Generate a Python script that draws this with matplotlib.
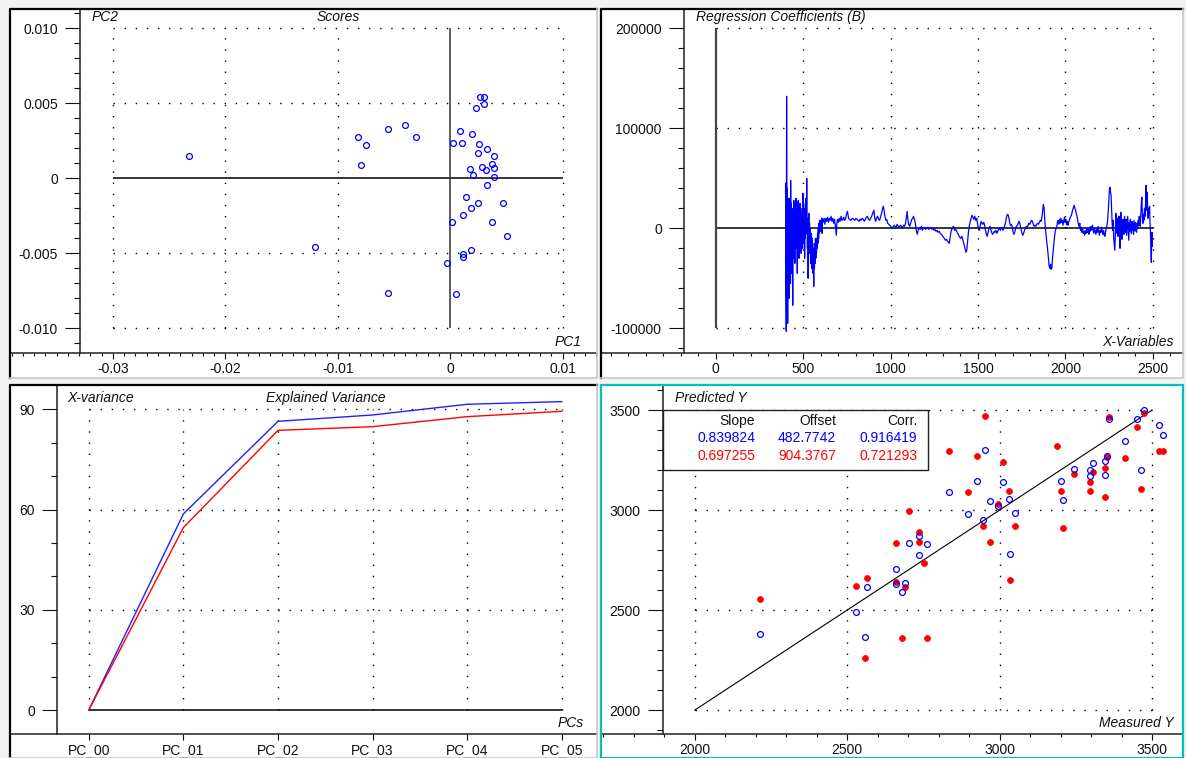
import matplotlib.pyplot as plt
from matplotlib.patches import Rectangle
from matplotlib.lines import Line2D
from matplotlib.ticker import MultipleLocator

plt.rcParams['font.family'] = ['Liberation Sans', 'DejaVu Sans']
plt.rcParams['font.size'] = 10

# ---- scores (PC1 / PC2)
score_pc1 = [-0.02325, -0.0120, -0.00820, -0.00748, -0.00790, -0.00552, -0.00398, -0.00306,
             -0.00552, 0.00267, 0.00297, 0.00297, 0.00226, 0.00083, 0.00196, 0.00021,
             0.00104, 0.00255, 0.00327, 0.00246, 0.00389, 0.00368, 0.00392, 0.00285,
             0.00318, 0.00175, 0.00205, 0.00389, 0.00327, 0.00143, 0.00246, 0.00472,
             0.00184, 0.00113, 0.00012, 0.00368, 0.00502, 0.00184, 0.00113, 0.00113,
             -0.00030, 0.00050]
score_pc2 = [0.00149, -0.00456, 0.00276, 0.00222, 0.00087, 0.00331, 0.00356, 0.00276,
             -0.00762, 0.00540, 0.00540, 0.00496, 0.00467, 0.00316, 0.00293, 0.00238,
             0.00238, 0.00231, 0.00198, 0.00167, 0.00151, 0.00096, 0.00071, 0.00073,
             0.00056, 0.00062, 0.00024, 0.00009, -0.00047, -0.00124, -0.00164, -0.00164,
             -0.00196, -0.00244, -0.00291, -0.00291, -0.00384, -0.00480, -0.00502, -0.00527,
             -0.00564, -0.00771]
score_xticks = [-0.03, -0.02, -0.01, 0, 0.01]
score_xlabels = ['-0.03', '-0.02', '-0.01', '0', '0.01']
score_yticks = [0.010, 0.005, 0, -0.005, -0.010]
score_ylabels = ['0.010', '0.005', '0', '-0.005', '-0.010']

# ---- regression coefficients B (values in thousands)
coef_x = [400, 402, 404, 406, 408, 410, 412, 414, 416, 418, 420, 422, 424, 426, 428, 429, 431, 433, 435, 437,
          439, 441, 443, 445, 447, 449, 451, 453, 455, 457, 459, 461, 463, 465, 467, 469, 471, 473, 475, 477,
          479, 481, 483, 485, 487, 489, 491, 493, 495, 497, 499, 501, 503, 505, 507, 509, 511, 513, 515, 517,
          519, 521, 523, 525, 527, 529, 531, 533, 535, 537, 539, 541, 543, 545, 547, 549, 551, 553, 555, 557,
          559, 561, 563, 565, 567, 569, 571, 573, 575, 577, 579, 581, 583, 585, 587, 589, 591, 593, 595, 597,
          599, 601, 603, 605, 607, 609, 611, 615, 620, 625, 630, 635, 640, 645, 650, 655, 660, 665, 670, 675,
          680, 685, 690, 693, 697, 702, 707, 712, 717, 722, 727, 732, 737, 742, 748, 754, 760, 766, 772, 778,
          784, 790, 796, 802, 808, 814, 820, 826, 832, 838, 844, 850, 856, 862, 868, 874, 880, 886, 892, 898,
          905, 910, 915, 920, 926, 932, 938, 944, 950, 955, 959, 963, 968, 973, 978, 984, 990, 996, 1002, 1008,
          1014, 1020, 1026, 1032, 1038, 1044, 1050, 1056, 1062, 1068, 1074, 1080, 1086, 1091, 1095, 1099, 1104,
          1110, 1116, 1122, 1127, 1131, 1137, 1142, 1147, 1153, 1158, 1164, 1170, 1176, 1182, 1188, 1194, 1200,
          1206, 1212, 1218, 1224, 1230, 1236, 1242, 1248, 1254, 1260, 1266, 1272, 1278, 1284, 1290, 1296, 1302,
          1308, 1314, 1320, 1326, 1331, 1336, 1340, 1345, 1350, 1355, 1360, 1364, 1368, 1372, 1378, 1384, 1390,
          1396, 1402, 1408, 1414, 1420, 1426, 1431, 1436, 1441, 1446, 1451, 1456, 1461, 1466, 1471, 1476, 1482,
          1487, 1493, 1498, 1503, 1508, 1513, 1518, 1523, 1528, 1533, 1538, 1543, 1548, 1553, 1558, 1563, 1568,
          1573, 1578, 1583, 1588, 1593, 1598, 1603, 1608, 1613, 1618, 1623, 1628, 1633, 1638, 1643, 1648, 1653,
          1658, 1662, 1666, 1670, 1675, 1680, 1685, 1690, 1695, 1700, 1705, 1710, 1715, 1720, 1725, 1730, 1735,
          1740, 1745, 1750, 1756, 1761, 1766, 1771, 1776, 1781, 1786, 1791, 1796, 1801, 1806, 1811, 1816, 1821,
          1826, 1831, 1836, 1841, 1846, 1851, 1856, 1861, 1866, 1870, 1874, 1878, 1882, 1886, 1890, 1894, 1897,
          1901, 1904, 1907, 1911, 1915, 1918, 1922, 1926, 1930, 1934, 1938, 1942, 1946, 1950, 1954, 1958, 1962,
          1966, 1970, 1974, 1978, 1982, 1986, 1990, 1994, 1998, 2002, 2006, 2010, 2014, 2018, 2022, 2026, 2030,
          2034, 2038, 2042, 2046, 2050, 2054, 2058, 2062, 2066, 2070, 2074, 2078, 2082, 2086, 2090, 2094, 2098,
          2102, 2106, 2110, 2114, 2118, 2122, 2126, 2130, 2134, 2138, 2142, 2146, 2150, 2154, 2158, 2162, 2166,
          2170, 2174, 2178, 2182, 2186, 2190, 2194, 2198, 2202, 2206, 2210, 2214, 2218, 2222, 2226, 2229, 2232,
          2236, 2240, 2244, 2248, 2252, 2255, 2258, 2261, 2264, 2267, 2270, 2273, 2276, 2279, 2282, 2285, 2288,
          2291, 2294, 2297, 2300, 2303, 2306, 2309, 2312, 2317, 2320, 2323, 2326, 2329, 2332, 2335, 2338, 2341,
          2344, 2347, 2350, 2353, 2356, 2359, 2362, 2365, 2368, 2371, 2374, 2377, 2380, 2383, 2386, 2389, 2392,
          2395, 2398, 2401, 2404, 2407, 2410, 2413, 2416, 2419, 2422, 2425, 2428, 2431, 2434, 2437, 2440, 2443,
          2446, 2449, 2452, 2455, 2458, 2461, 2464, 2467, 2469, 2472, 2475, 2478, 2481, 2484, 2486, 2488, 2491,
          2493, 2495, 2497]
coef_b = [45, -60, -103, 132, -90, 40, -95, 20, -60, 30, -70, 25, -40, 30, -55, 48, -30, 25, -45, 15,
          -20, -77, 20, -30, 28, -15, 20, -35, 25, -10, 30, -20, 27, 0, -45, 15, -10, 28, 5, -30,
          20, -5, 25, -15, 15, -25, 10, -10, 20, -20, 35, -15, 25, -5, 15, -30, 20, -10, 30, -5,
          10, 50, 5, -20, 10, -50, -5, 15, -20, 5, -25, 0, -35, -5, -20, -40, -10, -30, -15, -45,
          -25, -58, -20, -40, -15, -35, -10, -30, -20, -25, -10, -20, -5, -15, 0, -10, 5, -5, 8, 0,
          5, -3, 8, 2, 10, -5, 9, 6, 10, 4, 10, 7, 11, 6, 10, 8, 12, 7, 10, 5,
          9, 2, -7, 4, 9, 6, 10, 7, 12, 8, 9, 11, 8, 9, 14, 17, 10, 9, 8, 9,
          10, 9, 8, 10, 9, 8, 7, 9, 8, 10, 9, 7, 9, 11, 12, 9, 8, 10, 12, 15,
          18, 10, 7, 10, 12, 9, 8, 12, 16, 20, 22, 18, 12, 8, 9, 5, 4, 3, 2, 0,
          1, 3, 2, 1, 4, 2, 1, 3, 2, 0, 3, 2, 5, 12, 17, 9, 4,
          2, 6, 9, 10, 12, 9, 5, -2, -6, -2, 0, -1, 2, -2, 0, 1, -1,
          0, 1, -1, 0, 1, -1, 0, -2, -1, -3, -2, -4, -3, -5, -6, -7, -9,
          -10, -12, -11, -13, -14, -15, -10, -4, -1, 1, 2, -1, -2, -1, -3, -5, -7,
          -9, -10, -8, -12, -16, -20, -24, -22, -12, -3, 3, 7, 10, 13, 11, 9, 12,
          8, 10, 4, -1, -2, 3, 7, 5, 4, 6, 3, -2, -6, -8, -4, 0, 2,
          -1, -4, -6, -5, -3, -4, -2, -5, -3, -1, 0, -2, 1, 0, -2, 0, 3,
          6, 10, 13, 14, 12, 7, 3, 4, 2, -3, -6, -4, 0, 2, 3, 5, 7,
          4, 0, -4, -7, -5, -2, 0, 2, 1, 3, 5, 4, 6, 8, 7, 4, 2,
          3, 2, 4, 5, 4, 6, 8, 7, 12, 18, 24, 20, 8, -1, -8, -15, -19,
          -27, -33, -38, -40, -36, -41, -40, -30, -22, -15, -8, -3, 0, 1, 6, 8, 4,
          9, 5, 10, 6, 8, 3, 7, 11, 6, 9, 4, 7, 3, 6, 8, 10, 12,
          13, 16, 19, 21, 23, 20, 18, 15, 12, 8, 4, 2, 5, -2, 1, -4, -1,
          -5, -3, -7, -2, -5, 0, -4, -1, -6, 1, -3, 2, -2, 3, -1, -5, 0,
          -3, -6, -1, -4, 2, -3, -7, -2, -4, 1, -3, -6, -2, -7, -8, -4, -1,
          2, 6, 15, 28, 40, 41, 36, 33, 20, 5, -2, 8, -10, -16, -22, -8, 15,
          3, -5, 10, -8, -2, 12, -6, -20, 16, 8, -11, 2, 9, -3, -6, 12, 4,
          -4, 9, -7, 2, 12, -1, -12, 6, -3, 9, 1, -5, 7, -2, 5, -6, 8,
          2, -3, 6, 1, -4, 5, 0, 8, 3, 12, 6, 2, 15, 26, 31, 12, 5,
          14, 8, 20, 12, 24, 43, 18, 36, 25, 10, 20, 15, 22, 4, -4, -15, -34,
          -10, -4, -18]
coef_xticks = [0, 500, 1000, 1500, 2000, 2500]
coef_yticks = [200000, 100000, 0, -100000]

# ---- explained X-variance
pc_names = ['PC_00', 'PC_01', 'PC_02', 'PC_03', 'PC_04', 'PC_05']
xvar_cal = [0, 58.7, 86.4, 88.3, 91.5, 92.3]
xvar_val = [0, 54.6, 83.7, 84.8, 87.8, 89.4]
var_yticks = [90, 60, 30, 0]

# ---- predicted vs measured
meas_cal = [2213, 2528, 2559, 2566, 2660, 2660, 2680, 2688, 2702, 2736, 2736, 2762, 2835, 2896,
            2925, 2944, 2952, 2967, 2993, 3012, 3030, 3035, 3049, 3201, 3208, 3243, 3295, 3295,
            3307, 3344, 3344, 3352, 3360, 3412, 3449, 3464, 3475, 3523, 3536]
pred_cal = [2378, 2492, 2367, 2615, 2703, 2630, 2590, 2633, 2833, 2775, 2870, 2828, 3092, 2982,
            3145, 2950, 3300, 3045, 3020, 3140, 3053, 2780, 2987, 3145, 3052, 3205, 3200, 3172,
            3235, 3247, 3177, 3270, 3453, 3347, 3453, 3200, 3500, 3425, 3375]
meas_val = [2213, 2528, 2566, 2559, 2660, 2660, 2688, 2680, 2702, 2736, 2736, 2752, 2762, 2835,
            2896, 2925, 2952, 2944, 2967, 2993, 3012, 3030, 3035, 3049, 3189, 3201, 3208, 3243,
            3295, 3295, 3307, 3344, 3344, 3352, 3360, 3412, 3449, 3464, 3475, 3523, 3536]
pred_val = [2557, 2622, 2658, 2260, 2833, 2640, 2615, 2362, 2993, 2888, 2842, 2733, 2362, 3295,
            3088, 3272, 3472, 2922, 2840, 3028, 3242, 3095, 2650, 2922, 3320, 3095, 2910, 3178,
            3142, 3095, 3188, 3212, 3063, 3267, 3467, 3260, 3413, 3105, 3483, 3295, 3295]
target = [2000, 3500]
pred_ticks = [2000, 2500, 3000, 3500]
stat_names = ['Slope', 'Offset', 'Corr.']
stats_cal = ['0.839824', '482.7742', '0.916419']
stats_val = ['0.697255', '904.3767', '0.721293']

BLUE = '#0000ff'
RED = '#ff0000'
DOTS = (0, (1, 7))

W, H = 1186, 758
fig = plt.figure(figsize=(W / 100, H / 100), dpi=100)
fig.patch.set_facecolor('#f2f2f2')


def fx(px):
    return px / W


def fy(py):
    return 1 - py / H


def lin(pa, va, pb, vb, p):
    return va + (p - pa) * (vb - va) / (pb - pa)


def panel(box, active=False):
    x0, y0, x1, y1 = box
    fig.add_artist(Rectangle((fx(x0), fy(y1)), (x1 - x0) / W, (y1 - y0) / H,
                             transform=fig.transFigure, fc='white', ec='none', zorder=-2))
    if active:
        fig.add_artist(Rectangle((fx(x0), fy(y1)), (x1 - x0) / W, (y1 - y0) / H,
                                 transform=fig.transFigure, fc='none', ec='#00c0c0',
                                 lw=1.6, zorder=6))
    else:
        fig.add_artist(Line2D([fx(x0), fx(x0), fx(x1)], [fy(y1), fy(y0), fy(y0)],
                              transform=fig.transFigure, color='black', lw=1.6, zorder=6))
        fig.add_artist(Line2D([fx(x0), fx(x1), fx(x1)], [fy(y1), fy(y1), fy(y0)],
                              transform=fig.transFigure, color='#c8c8c8', lw=1.2, zorder=6))


def make_axes(box, spine_x, spine_y, xref, yref):
    x0, y0, x1, _ = box
    ax = fig.add_axes([fx(x0), fy(spine_y), (x1 - x0) / W, (spine_y - y0) / H])
    ax.set_facecolor('none')
    (pa, va), (pb, vb) = xref
    ax.set_xlim(lin(pa, va, pb, vb, x0), lin(pa, va, pb, vb, x1))
    (pa, va), (pb, vb) = yref
    ax.set_ylim(lin(pa, va, pb, vb, spine_y), lin(pa, va, pb, vb, y0))
    ax.spines['top'].set_visible(False)
    ax.spines['right'].set_visible(False)
    ax.spines['left'].set_position(('axes', (spine_x - x0) / (x1 - x0)))
    for s in ('left', 'bottom'):
        ax.spines[s].set_linewidth(1.1)
        ax.spines[s].set_color('#222222')
    ax.tick_params(axis='y', which='major', length=11, width=0.8, pad=5, colors='#111111')
    ax.tick_params(axis='y', which='minor', length=4.5, width=0.8, colors='#111111')
    ax.tick_params(axis='x', which='major', length=4.5, width=0.8, pad=2, colors='#111111')
    ax.tick_params(axis='x', which='minor', length=2, width=0.8, colors='#111111')
    return ax


def label(px, py, text, ha='left'):
    fig.text(fx(px), fy(py), text, ha=ha, va='center', style='italic', color='#111111', zorder=7)


# ---------------- Scores
box = (10, 9, 597, 378)
panel(box)
ax = make_axes(box, 80, 353, ((112.9, -0.03), (562.6, 0.01)), ((28.3, 0.010), (328.3, -0.010)))
ax.set_xticks(score_xticks, score_xlabels)
ax.set_yticks(score_yticks, score_ylabels)
ax.xaxis.set_minor_locator(MultipleLocator(0.001))
ax.yaxis.set_minor_locator(MultipleLocator(0.001))
ax.hlines([0.010, 0.005, -0.005, -0.010], -0.03, 0.01, colors='black', linestyles=DOTS, lw=1.0)
ax.vlines([-0.03, -0.02, -0.01, 0.01], -0.010, 0.010, colors='black', linestyles=DOTS, lw=1.0)
ax.hlines(0, -0.03, 0.01, colors='black', lw=1.1)
ax.vlines(0, -0.010, 0.010, colors='#333333', lw=1.1)
ax.plot(score_pc1, score_pc2, 'o', mfc='none', mec=BLUE, ms=4.2, mew=0.9)
label(92, 17, 'PC2')
label(338, 17, 'Scores', ha='center')
label(582, 342, 'PC1', ha='right')

# ---------------- Regression coefficients
box = (601, 9, 1183, 378)
panel(box)
ax = make_axes(box, 684, 353, ((715.6, 0), (1152.9, 2500)), ((28.3, 200000), (328.3, -100000)))
ax.set_xticks(coef_xticks, [str(v) for v in coef_xticks])
ax.set_yticks(coef_yticks, [str(v) for v in coef_yticks])
ax.xaxis.set_minor_locator(MultipleLocator(100))
ax.yaxis.set_minor_locator(MultipleLocator(20000))
ax.hlines([200000, 100000, -100000], 0, 2500, colors='black', linestyles=DOTS, lw=1.0)
ax.vlines([500, 1000, 1500, 2000, 2500], -100000, 200000, colors='black', linestyles=DOTS, lw=1.0)
ax.hlines(0, 0, 2500, colors='black', lw=1.1)
ax.vlines(0, -100000, 200000, colors='#444444', lw=1.6)
ax.plot(coef_x, [v * 1000 for v in coef_b], color=BLUE, lw=0.9)
label(696, 17, 'Regression Coefficients (B)')
label(1174, 342, 'X-Variables', ha='right')

# ---------------- Explained variance
box = (10, 385, 597, 758)
panel(box)
ax = make_axes(box, 57, 734, ((88.8, 0), (561.8, 5)), ((409.3, 90), (710, 0)))
pcs = list(range(len(pc_names)))
ax.set_xticks(pcs, pc_names)
ax.set_yticks(var_yticks, [str(v) for v in var_yticks])
ax.yaxis.set_minor_locator(MultipleLocator(10))
ax.hlines([90, 60, 30], 0, 5, colors='black', linestyles=DOTS, lw=1.0)
ax.vlines(pcs, 0, 90, colors='black', linestyles=DOTS, lw=1.0)
ax.hlines(0, 0, 5, colors='black', lw=1.1)
ax.plot(pcs, xvar_cal, color='#2020ff', lw=1.0)
ax.plot(pcs, xvar_val, color=RED, lw=1.0)
label(67, 398, 'X-variance')
label(326, 398, 'Explained Variance', ha='center')
label(584, 723, 'PCs', ha='right')

# ---------------- Predicted vs measured
box = (601, 385, 1183, 758)
panel(box, active=True)
ax = make_axes(box, 663, 734, ((694.9, 2000), (1152.1, 3500)), ((410, 3500), (710, 2000)))
ax.set_xticks(pred_ticks, [str(v) for v in pred_ticks])
ax.set_yticks(pred_ticks, [str(v) for v in pred_ticks])
ax.xaxis.set_minor_locator(MultipleLocator(100))
ax.yaxis.set_minor_locator(MultipleLocator(100))
ax.hlines(pred_ticks, 2000, 3500, colors='black', linestyles=DOTS, lw=1.0)
ax.vlines(pred_ticks, 2000, 3500, colors='black', linestyles=DOTS, lw=1.0)
ax.plot(target, target, color='black', lw=0.8)
ax.plot(meas_val, pred_val, 'o', mfc=RED, mec=RED, ms=4.2, mew=0.6)
ax.plot(meas_cal, pred_cal, 'o', mfc='none', mec=BLUE, ms=4.2, mew=0.9)
label(675, 398, 'Predicted Y')
label(1174, 723, 'Measured Y', ha='right')

# statistics table
fig.add_artist(Rectangle((fx(663), fy(470)), (928 - 663) / W, 60 / H, transform=fig.transFigure,
                         fc='white', ec='#222222', lw=1.0, zorder=5))
col_right = [755, 836, 917]
for i in range(3):
    fig.text(fx(col_right[i]), fy(421), stat_names[i], ha='right', va='center', color='#111111', zorder=7)
    fig.text(fx(col_right[i]), fy(438.5), stats_cal[i], ha='right', va='center', color=BLUE, zorder=7)
    fig.text(fx(col_right[i]), fy(456), stats_val[i], ha='right', va='center', color=RED, zorder=7)

fig.savefig('out.png', dpi=100, facecolor=fig.get_facecolor())
